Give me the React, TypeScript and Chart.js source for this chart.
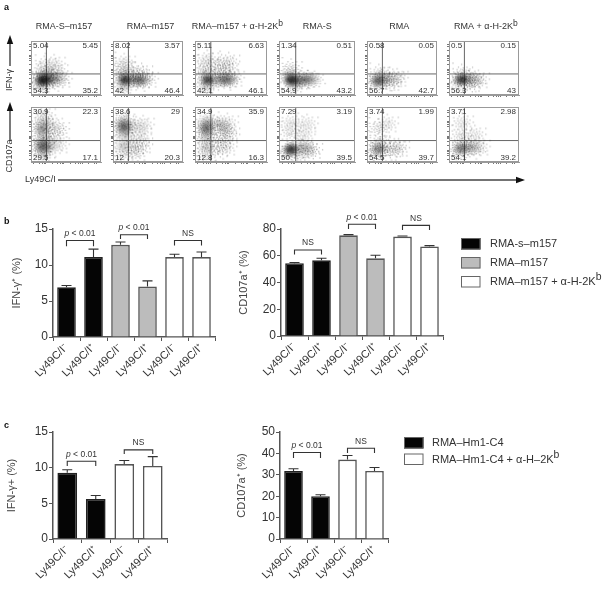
import React, { useEffect, useRef } from "react";
import { Chart, registerables } from "chart.js";

Chart.register(...registerables);

// ---------- Flow cytometry data ----------
const flowTitles = ["RMA-S–m157", "RMA–m157", "RMA–m157 + α-H-2K^{b}", "RMA-S", "RMA", "RMA + α-H-2K^{b}"];
const ifnQuadrants = [
  ["5.04", "5.45", "54.3", "35.2"],
  ["8.02", "3.57", "42", "46.4"],
  ["5.11", "6.63", "42.1", "46.1"],
  ["1.34", "0.51", "54.9", "43.2"],
  ["0.58", "0.05", "56.7", "42.7"],
  ["0.5", "0.15", "56.3", "43"],
];
const cd107Quadrants = [
  ["30.9", "22.3", "29.5", "17.1"],
  ["38.6", "29", "12", "20.3"],
  ["34.9", "35.9", "12.8", "16.3"],
  ["7.29", "3.19", "50", "39.5"],
  ["3.74", "1.99", "54.5", "39.7"],
  ["3.71", "2.98", "54.1", "39.2"],
];
// density clusters: x %, y %, density level 1-4
const ifnClusters = [
  [[16, 29, 4], [14, 27, 3], [20, 31, 3], [28, 30, 3], [36, 31, 2], [42, 30, 1], [17, 40, 2], [25, 42, 1], [36, 44, 1], [18, 55, 1], [32, 58, 1], [16, 20, 2]],
  [[16, 29, 4], [14, 38, 2], [15, 50, 1], [15, 60, 1], [24, 30, 2], [33, 29, 3], [40, 29, 3], [48, 30, 1], [26, 42, 1], [40, 42, 1], [15, 18, 2]],
  [[17, 29, 4], [14, 40, 2], [15, 55, 1], [30, 30, 2], [38, 29, 3], [46, 30, 3], [52, 32, 1], [32, 45, 1], [44, 46, 1], [36, 58, 1], [16, 66, 1], [46, 62, 1], [15, 18, 2]],
  [[15, 29, 4], [18, 29, 3], [14, 38, 2], [28, 29, 3], [36, 30, 3], [44, 30, 2], [15, 50, 1], [20, 20, 2]],
  [[16, 29, 3], [15, 26, 3], [27, 32, 2], [36, 31, 1], [42, 32, 1], [16, 40, 1], [32, 24, 1]],
  [[17, 30, 4], [15, 25, 2], [26, 31, 2], [34, 30, 2], [41, 29, 1], [17, 40, 1], [30, 22, 1]],
];
const cd107Clusters = [
  [[15, 33, 3], [16, 27, 3], [16, 44, 2], [15, 60, 3], [16, 72, 2], [25, 30, 2], [30, 50, 1], [28, 68, 1], [38, 32, 1], [38, 60, 1], [18, 85, 1], [16, 16, 2]],
  [[15, 68, 3], [15, 62, 3], [14, 76, 2], [15, 50, 2], [15, 30, 2], [15, 16, 1], [32, 66, 1], [38, 50, 1], [40, 32, 1], [42, 68, 1], [30, 30, 1], [32, 18, 1]],
  [[15, 66, 3], [15, 58, 3], [16, 75, 2], [15, 45, 2], [15, 28, 2], [15, 16, 1], [33, 70, 2], [40, 60, 2], [44, 72, 1], [36, 42, 1], [42, 28, 1], [32, 25, 1], [46, 50, 1]],
  [[15, 25, 4], [14, 20, 3], [14, 55, 1], [15, 72, 1], [28, 28, 2], [36, 25, 2], [42, 22, 1], [32, 50, 1], [36, 70, 1], [28, 15, 1]],
  [[16, 26, 3], [14, 20, 2], [16, 36, 1], [15, 62, 1], [30, 24, 1], [38, 26, 1], [44, 26, 1], [28, 70, 1]],
  [[16, 27, 3], [15, 22, 2], [26, 28, 2], [34, 27, 2], [42, 28, 1], [16, 48, 1], [18, 72, 1], [36, 50, 1]],
];
const flowGateX = 22;
const flowGateY = 39;
const flowTicks = [4, 12, 16, 19, 21, 30, 38, 42, 45, 47, 56, 64, 68, 71, 73, 82, 90, 94];

// ---------- Bar chart data ----------
const labels6 = ["Ly49C/I⁻", "Ly49C/I⁺", "Ly49C/I⁻", "Ly49C/I⁺", "Ly49C/I⁻", "Ly49C/I⁺"];
const labels4 = ["Ly49C/I⁻", "Ly49C/I⁺", "Ly49C/I⁻", "Ly49C/I⁺"];

const bIfnValues = [6.9, 11.1, 12.8, 7.0, 11.1, 11.1];
const bIfnErrors = [0.25, 1.1, 0.4, 0.8, 0.4, 0.7];
const bCdValues = [54.4, 56.6, 75.3, 58.1, 74.3, 67];
const bCdErrors = [0.6, 1.5, 0.5, 2.3, 0.5, 0.6];
const cIfnValues = [9.3, 5.6, 10.5, 10.25];
const cIfnErrors = [0.4, 0.5, 0.5, 1.3];
const cCdValues = [31.8, 20, 37.1, 31.8];
const cCdErrors = [1.0, 0.7, 1.9, 1.6];

const BLACK = "#050505";
const GREY = "#bcbcbc";
const WHITE = "#ffffff";
const bColors = [BLACK, BLACK, GREY, GREY, WHITE, WHITE];
const cColors = [BLACK, BLACK, WHITE, WHITE];

// [from bar, to bar, top value, bottom value, label]
const bIfnBrackets = [[0, 1, 13.4, 12.6, "*p* < 0.01"], [2, 3, 14.2, 13.6, "*p* < 0.01"], [4, 5, 13.4, 12.7, "NS"]];
const bCdBrackets = [[0, 1, 64.3, 61, "NS"], [2, 3, 83.5, 80, "*p* < 0.01"], [4, 5, 82.7, 79.3, "NS"]];
const cIfnBrackets = [[0, 1, 10.9, 10.25, "*p* < 0.01"], [2, 3, 12.5, 11.9, "NS"]];
const cCdBrackets = [[0, 1, 40.4, 37.9, "*p* < 0.01"], [2, 3, 42.4, 40.2, "NS"]];

const bLegendNames = ["RMA-s–m157", "RMA–m157", "RMA–m157 + α-H-2K^{b}"];
const bLegendColors = [BLACK, GREY, WHITE];
const cLegendNames = ["RMA–Hm1-C4", "RMA–Hm1-C4 + α-H–2K^{b}"];
const cLegendColors = [BLACK, WHITE];

// ---------- Helpers ----------
const FONT = '"Liberation Sans", Arial, sans-serif';
const INK = "#333333";

function richText(ctx: any, text: string, x: number, y: number, size: number, opts: any = {}) {
  const parts: { t: string; sup?: boolean; it?: boolean }[] = [];
  const re = /\^\{(.+?)\}|\*(.+?)\*|([^^*]+)/g;
  let m: any;
  while ((m = re.exec(text))) {
    if (m[1]) parts.push({ t: m[1], sup: true });
    else if (m[2]) parts.push({ t: m[2], it: true });
    else parts.push({ t: m[3] });
  }
  const fontOf = (p: any) =>
    `${opts.bold ? "bold " : ""}${p.it ? "italic " : ""}${p.sup ? size * 0.95 : size}px ${FONT}`;
  ctx.save();
  ctx.translate(x, y);
  if (opts.rotate) ctx.rotate(opts.rotate);
  ctx.fillStyle = opts.color || INK;
  ctx.textBaseline = "middle";
  ctx.textAlign = "left";
  let total = 0;
  parts.forEach((p) => {
    ctx.font = fontOf(p);
    total += ctx.measureText(p.t).width;
  });
  let cx = opts.align === "center" ? -total / 2 : opts.align === "right" ? -total : 0;
  parts.forEach((p) => {
    ctx.font = fontOf(p);
    ctx.fillText(p.t, cx, p.sup ? -size * 0.4 : 0);
    cx += ctx.measureText(p.t).width;
  });
  ctx.restore();
}

// Fine stipple textures for the flow plots (a drawing style, not data)
const spriteSpecs = [null, [13, 42, 0.3], [11, 65, 0.3], [10, 95, 0.34], [8, 120, 0.42]];
let spriteCache: any[] | null = null;
function sprites() {
  if (spriteCache) return spriteCache;
  spriteCache = spriteSpecs.map((spec: any) => {
    if (!spec) return null;
    const [R, n, a] = spec;
    const s = R * 4 + 4;
    const c = document.createElement("canvas");
    c.width = s;
    c.height = s;
    const g = c.getContext("2d") as CanvasRenderingContext2D;
    (g as any).filter = "blur(0.5px)";
    g.fillStyle = `rgba(15,15,15,${a})`;
    for (let i = 0; i < n; i++) {
      const u = (i + 0.5) / n;
      const r = (R * Math.sqrt(-Math.log(1 - u * 0.98))) / 1.5;
      const t = i * 2.39996;
      g.fillRect(s / 2 + r * Math.cos(t), s / 2 + r * 0.8 * Math.sin(t), 1.2, 1.2);
    }
    return c;
  });
  return spriteCache;
}

const flowPlugin = {
  id: "flowPlugin",
  afterDraw(chart: any, _a: any, o: any) {
    const { ctx, chartArea: A } = chart;
    ctx.save();
    ctx.strokeStyle = "#999";
    ctx.lineWidth = 1;
    ctx.strokeRect(A.left + 0.5, A.top + 0.5, A.width - 1, A.height - 1);
    ctx.restore();
    const q = o.quadrants;
    richText(ctx, q[0], A.left + 2, A.top + 4.5, 8);
    richText(ctx, q[1], A.right - 3, A.top + 4.5, 8, { align: "right" });
    richText(ctx, q[2], A.left + 2, A.bottom - 4, 8);
    richText(ctx, q[3], A.right - 3, A.bottom - 4, 8, { align: "right" });
  },
};

const barPlugin = {
  id: "barExtras",
  afterDatasetsDraw(chart: any, _a: any, o: any) {
    const { ctx, scales } = chart;
    const x = scales.x;
    const y = scales.y;
    ctx.save();
    ctx.strokeStyle = "#333";
    ctx.lineWidth = 1.1;
    (o.errors || []).forEach((e: number, i: number) => {
      const v = chart.data.datasets[0].data[i];
      const px = x.getPixelForValue(i);
      const y0 = y.getPixelForValue(v);
      const y1 = y.getPixelForValue(v + e);
      ctx.beginPath();
      ctx.moveTo(px, y0);
      ctx.lineTo(px, y1);
      ctx.moveTo(px - 5, y1);
      ctx.lineTo(px + 5, y1);
      ctx.stroke();
    });
    (o.brackets || []).forEach((b: any[]) => {
      const xa = x.getPixelForValue(b[0]);
      const xb = x.getPixelForValue(b[1]);
      const top = y.getPixelForValue(b[2]);
      const bot = y.getPixelForValue(b[3]);
      ctx.beginPath();
      ctx.moveTo(xa, bot);
      ctx.lineTo(xa, top);
      ctx.lineTo(xb, top);
      ctx.lineTo(xb, bot);
      ctx.stroke();
      richText(ctx, b[4], (xa + xb) / 2, top - 7, 8.5, { align: "center" });
    });
    ctx.restore();
    if (o.legend) {
      const L = o.legend;
      L.names.forEach((name: string, i: number) => {
        const sy = L.y + i * L.step;
        ctx.fillStyle = L.colors[i];
        ctx.fillRect(L.x, sy, 19.5, 11.5);
        ctx.strokeStyle = "#666";
        ctx.lineWidth = 1;
        ctx.strokeRect(L.x + 0.5, sy + 0.5, 18.5, 10.5);
        richText(ctx, name, L.x + L.textGap, sy + 6, 11);
      });
    }
  },
};

function arrowHead(ctx: any, x: number, y: number, dx: number, dy: number) {
  ctx.beginPath();
  ctx.moveTo(x, y);
  ctx.lineTo(x - dx * 9 - dy * 3.2, y - dy * 9 - dx * 3.2);
  ctx.lineTo(x - dx * 9 + dy * 3.2, y - dy * 9 + dx * 3.2);
  ctx.closePath();
  ctx.fill();
}

const titleX = [35.7, 126.7, 191.7, 302.7, 389.3, 454];

const pagePlugin = {
  id: "pagePlugin",
  afterDraw(chart: any) {
    const ctx = chart.ctx;
    richText(ctx, "a", 4, 8, 9, { bold: true, color: "#111" });
    richText(ctx, "b", 4, 222, 9, { bold: true, color: "#111" });
    richText(ctx, "c", 4, 426, 9, { bold: true, color: "#111" });
    flowTitles.forEach((t, i) => richText(ctx, t, titleX[i], 27, 9, {}));
    richText(ctx, "IFN-γ", 10, 80, 9, { rotate: -Math.PI / 2, align: "center" });
    richText(ctx, "CD107a", 10, 156, 9, { rotate: -Math.PI / 2, align: "center" });
    richText(ctx, "Ly49C/I", 25, 180, 9);
    ctx.save();
    ctx.strokeStyle = "#222";
    ctx.fillStyle = "#111";
    ctx.lineWidth = 1.2;
    ctx.beginPath();
    ctx.moveTo(10, 66);
    ctx.lineTo(10, 40);
    ctx.moveTo(10, 141);
    ctx.lineTo(10, 108);
    ctx.stroke();
    arrowHead(ctx, 10, 35, 0, -1);
    arrowHead(ctx, 10, 102, 0, -1);
    ctx.lineWidth = 1.4;
    ctx.strokeStyle = "#444";
    ctx.beginPath();
    ctx.moveTo(58, 180);
    ctx.lineTo(520, 180);
    ctx.stroke();
    arrowHead(ctx, 525, 180, 1, 0);
    ctx.restore();
  },
};

// ---------- Chart configs ----------
function flowConfig(clusters: number[][], quadrants: string[]) {
  const sp = sprites();
  const axis = () => ({
    type: "linear",
    min: 0,
    max: 100,
    afterBuildTicks: (s: any) => {
      s.ticks = flowTicks.map((v) => ({ value: v }));
    },
    afterFit: (s: any) => {
      if (s.isHorizontal()) s.height = 3;
      else s.width = 3;
    },
    ticks: { display: false },
    grid: { drawOnChartArea: false, drawTicks: true, tickLength: 2, color: "#777", lineWidth: 1 },
    border: { display: true, color: "#999" },
  });
  return {
    type: "scatter",
    data: {
      datasets: [
        {
          data: clusters.map(([x, y, w]) => ({ x, y, w })),
          pointRadius: 3,
          pointStyle: (c: any) => (c.raw ? sp[c.raw.w] : "circle"),
        },
        { data: [{ x: flowGateX, y: 0 }, { x: flowGateX, y: 100 }], showLine: true, pointRadius: 0, borderColor: "#666", borderWidth: 1 },
        { data: [{ x: 0, y: flowGateY }, { x: 100, y: flowGateY }], showLine: true, pointRadius: 0, borderColor: "#666", borderWidth: 1 },
      ],
    },
    options: {
      animation: false,
      responsive: false,
      devicePixelRatio: 1,
      layout: { padding: { top: 1, right: 1, left: 0, bottom: 0 } },
      plugins: { legend: { display: false }, tooltip: { enabled: false }, flowPlugin: { quadrants } },
      scales: { x: axis(), y: axis() },
    },
    plugins: [flowPlugin],
  };
}

function barConfig(p: any) {
  return {
    type: "bar",
    data: {
      labels: p.labels,
      datasets: [
        {
          data: p.values,
          backgroundColor: p.colors,
          borderColor: p.colors.map((c: string) => (c === BLACK ? "#222" : "#555")),
          borderWidth: 1.6,
          categoryPercentage: 1,
          barPercentage: 0.69,
        },
      ],
    },
    options: {
      animation: false,
      responsive: false,
      devicePixelRatio: 1,
      layout: { padding: { top: p.padTop, right: p.padRight, left: 0, bottom: 0 } },
      plugins: {
        legend: { display: false },
        tooltip: { enabled: false },
        barExtras: { errors: p.errors, brackets: p.brackets, legend: p.legend },
      },
      scales: {
        x: {
          afterFit: (s: any) => {
            s.height = p.xHeight;
          },
          grid: { drawOnChartArea: false, drawTicks: true, tickLength: 4, color: "#555", lineWidth: 1 },
          border: { display: true, color: "#555", width: 1.5 },
          ticks: { minRotation: 45, maxRotation: 45, autoSkip: false, padding: 0, color: INK, font: { family: FONT, size: 11 } },
        },
        y: {
          min: 0,
          max: p.max,
          afterFit: (s: any) => {
            s.width = p.yWidth;
          },
          grid: { drawOnChartArea: false, drawTicks: true, tickLength: 4, color: "#555", lineWidth: 1 },
          border: { display: true, color: "#555", width: 1.5 },
          ticks: { stepSize: p.step, padding: 1, color: INK, font: { family: FONT, size: 12 } },
          title: { display: true, text: p.title, padding: 0, color: "#444", font: { family: FONT, size: 11 } },
        },
      },
    },
    plugins: [barPlugin],
  };
}

const pageConfig = {
  type: "scatter",
  data: { datasets: [] },
  options: {
    animation: false,
    responsive: false,
    devicePixelRatio: 1,
    plugins: { legend: { display: false }, tooltip: { enabled: false } },
    scales: { x: { display: false }, y: { display: false } },
  },
  plugins: [pagePlugin],
};

function ChartBox({ box, make }: { box: number[]; make: () => any }) {
  const ref = useRef<HTMLCanvasElement>(null);
  useEffect(() => {
    const chart = new Chart(ref.current as any, make());
    return () => chart.destroy();
  }, []);
  return (
    <canvas
      ref={ref}
      width={box[2]}
      height={box[3]}
      style={{ position: "absolute", left: box[0], top: box[1], width: box[2], height: box[3], display: "block" }}
    />
  );
}

const flowLefts = [29, 111, 193, 277, 365, 447];
const flowWidths = [76, 76, 78, 82, 76, 76];

export default function App() {
  const flow = flowLefts.flatMap((l, i) => [
    <ChartBox key={"t" + i} box={[l - 3, 36, flowWidths[i] + 4, 64]} make={() => flowConfig(ifnClusters[i], ifnQuadrants[i])} />,
    <ChartBox key={"b" + i} box={[l - 3, 102, flowWidths[i] + 4, 65]} make={() => flowConfig(cd107Clusters[i], cd107Quadrants[i])} />,
  ]);
  return (
    <div style={{ position: "absolute", left: 0, top: 0, width: 605, height: 589, background: "#fff", overflow: "hidden" }}>
      {flow}
      <ChartBox
        box={[10, 205, 206, 185]}
        make={() =>
          barConfig({ labels: labels6, values: bIfnValues, errors: bIfnErrors, colors: bColors, brackets: bIfnBrackets, max: 15, step: 5, title: "IFN-γ⁺ (%)", padTop: 24, padRight: 1, xHeight: 53, yWidth: 43 })
        }
      />
      <ChartBox
        box={[237, 205, 368, 185]}
        make={() =>
          barConfig({
            labels: labels6, values: bCdValues, errors: bCdErrors, colors: bColors, brackets: bCdBrackets, max: 80, step: 20, title: "CD107a⁺ (%)", padTop: 24, padRight: 162, xHeight: 54, yWidth: 44,
            legend: { names: bLegendNames, colors: bLegendColors, x: 224, y: 33, step: 19, textGap: 29 },
          })
        }
      />
      <ChartBox
        box={[5, 410, 165, 179]}
        make={() =>
          barConfig({ labels: labels4, values: cIfnValues, errors: cIfnErrors, colors: cColors, brackets: cIfnBrackets, max: 15, step: 5, title: "IFN-γ+ (%)", padTop: 22, padRight: 3, xHeight: 50, yWidth: 48 })
        }
      />
      <ChartBox
        box={[235, 410, 370, 179]}
        make={() =>
          barConfig({
            labels: labels4, values: cCdValues, errors: cCdErrors, colors: cColors, brackets: cCdBrackets, max: 50, step: 10, title: "CD107a⁺ (%)", padTop: 22, padRight: 217, xHeight: 50, yWidth: 45,
            legend: { names: cLegendNames, colors: cLegendColors, x: 169, y: 27, step: 16.5, textGap: 28 },
          })
        }
      />
      <ChartBox box={[0, 0, 605, 589]} make={() => pageConfig} />
    </div>
  );
}
